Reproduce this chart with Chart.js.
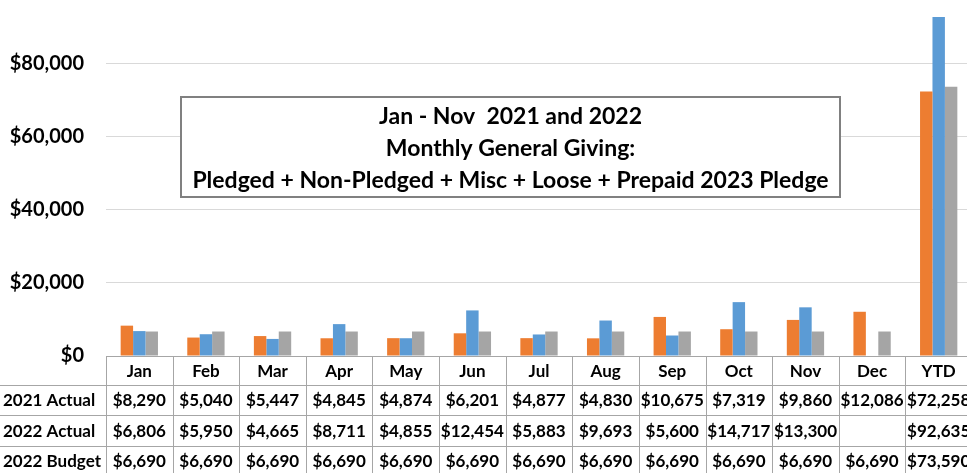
<!DOCTYPE html>
<html>
<head>
<meta charset="utf-8">
<script src="https://cdn.jsdelivr.net/npm/chart.js@4.4.0/dist/chart.umd.min.js"></script>
<style>
    html, body { margin: 0; padding: 0; background: #fff; overflow: hidden; }
    #wrap { position: absolute; left: 0; top: -22px; width: 990px; height: 500px; }
</style>
</head>
<body>
<div id="wrap"><canvas id="myChart" width="990" height="500"></canvas></div>
<script>
'use strict';
// data
const categories = ['Jan', 'Feb', 'Mar', 'Apr', 'May', 'Jun', 'Jul', 'Aug', 'Sep', 'Oct', 'Nov', 'Dec', 'YTD'];
const actual2021 = [8290, 5040, 5447, 4845, 4874, 6201, 4877, 4830, 10675, 7319, 9860, 12086, 72258];
const actual2022 = [6806, 5950, 4665, 8711, 4855, 12454, 5883, 9693, 5600, 14717, 13300, null, 92635];
const budget2022 = [6690, 6690, 6690, 6690, 6690, 6690, 6690, 6690, 6690, 6690, 6690, 6690, 73590];
const rowLabels = ['2021 Actual', '2022 Actual', '2022 Budget'];
const yTicks = [0, 20000, 40000, 60000, 80000, 100000];
const titleLines = ['Jan - Nov  2021 and 2022', 'Monthly General Giving:', 'Pledged + Non-Pledged + Misc + Loose + Prepaid 2023 Pledge'];

const FONT = 'Lato, "Open Sans", sans-serif';
const money = (v) => (v === null ? '' : '$' + v.toLocaleString('en-US'));

//Title box inside the plot
const titleBox = {
    id: 'titleBox',
    beforeDatasetsDraw(chart) {
        const ctx = chart.ctx;
        const x0 = 181, y0 = 119, w = 659, h = 100;
        ctx.save();
        ctx.fillStyle = '#fff';
        ctx.fillRect(x0, y0, w, h);
        ctx.strokeStyle = '#808080';
        ctx.lineWidth = 2;
        ctx.strokeRect(x0, y0, w, h);
        ctx.fillStyle = '#000';
        ctx.font = 'bold 23px ' + FONT;
        ctx.textAlign = 'center';
        ctx.textBaseline = 'middle';
        titleLines.forEach((t, i) => {
            ctx.fillText(t, x0 + w / 2, y0 + 20 + i * 32);
        });
        ctx.restore();
    },
};

//Data table under the axis
const dataTable = {
    id: 'dataTable',
    afterDraw(chart) {
        const ctx = chart.ctx;
        const xs = chart.scales.x;
        const top = chart.chartArea.bottom;
        const cw = xs.width / categories.length;
        const rows = [top, top + 29, top + 59, top + 90, top + 120];
        const rowsData = [actual2021, actual2022, budget2022];
        ctx.save();
        ctx.strokeStyle = '#A6A6A6';
        ctx.lineWidth = 1;
        ctx.beginPath();
        ctx.moveTo(xs.left, top + 0.5);
        ctx.lineTo(xs.right, top + 0.5);
        for (let r = 1; r < rows.length; r++) {
            ctx.moveTo(0, rows[r] + 0.5);
            ctx.lineTo(xs.right, rows[r] + 0.5);
        }
        for (let i = 0; i <= categories.length; i++) {
            const x = Math.round(xs.left + i * cw) + 0.5;
            ctx.moveTo(x, top);
            ctx.lineTo(x, rows[rows.length - 1]);
        }
        ctx.stroke();

        ctx.fillStyle = '#000';
        ctx.font = 'bold 17px ' + FONT;
        ctx.textBaseline = 'middle';
        ctx.textAlign = 'center';
        categories.forEach((c, i) => {
            const cx = xs.getPixelForValue(i);
            ctx.fillText(c, cx, (rows[0] + rows[1]) / 2 + 1);
            rowsData.forEach((arr, r) => {
                ctx.fillText(money(arr[i]), cx, (rows[r + 1] + rows[r + 2]) / 2 + 1);
            });
        });
        ctx.textAlign = 'left';
        rowLabels.forEach((l, r) => {
            ctx.fillText(l, 3, (rows[r + 1] + rows[r + 2]) / 2 + 1);
        });
        ctx.restore();
    },
};

const data = {
    labels: categories,
    datasets: [
        { label: '2021 Actual', data: actual2021, backgroundColor: '#ED7D31' },
        { label: '2022 Actual', data: actual2022, backgroundColor: '#5B9BD5' },
        { label: '2022 Budget', data: budget2022, backgroundColor: '#A5A5A5' },
    ],
};

const config = {
    type: 'bar',
    data: data,
    options: {
        responsive: false,
        animation: false,
        layout: { padding: { top: 12, right: 18, bottom: 122, left: 0 } },
        datasets: {
            bar: { categoryPercentage: 0.56, barPercentage: 1.0 },
        },
        scales: {
            x: { display: false },
            y: {
                min: 0,
                max: 100000,
                afterBuildTicks: (scale) => {
                    scale.ticks = yTicks.map((v) => ({ value: v }));
                },
                afterFit: (scale) => {
                    scale.width = 106;
                    scale.paddingTop = 0;
                    scale.paddingBottom = 0;
                },
                border: { display: false },
                grid: { color: '#D9D9D9', drawTicks: false },
                ticks: {
                    padding: 22,
                    color: '#000',
                    font: { family: FONT, size: 20, weight: 'bold' },
                    callback: (v) => money(v),
                },
            },
        },
        plugins: {
            legend: { display: false },
            tooltip: { enabled: false },
        },
    },
    plugins: [titleBox, dataTable],
};

const myChart = new Chart(document.getElementById('myChart'), config);
</script>
</body>
</html>
